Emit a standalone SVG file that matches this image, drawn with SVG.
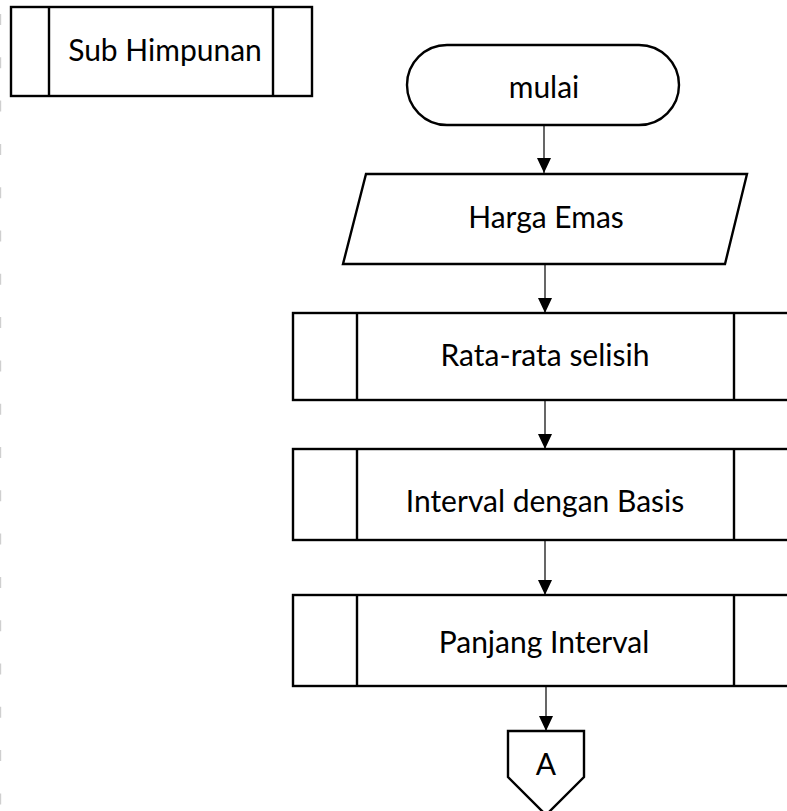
<svg xmlns="http://www.w3.org/2000/svg" width="787" height="811" viewBox="0 0 787 811">
  <defs>
    <marker id="arrow" viewBox="0 0 15 14" refX="15" refY="7" markerWidth="15" markerHeight="14" markerUnits="userSpaceOnUse" orient="auto">
      <path d="M0,0 L15,7 L0,14 Z" fill="#000"/>
    </marker>
    <style>
      .shape { fill: #fff; stroke: #000; stroke-width: 2.4; }
      .div { fill: none; stroke: #000; stroke-width: 2.4; }
      .label { font-family: Lato, "Open Sans", sans-serif; font-size: 30px; fill: #000; text-anchor: middle; }
      .flow { fill: none; stroke: #000; stroke-width: 1.2; marker-end: url(#arrow); }
    </style>
  </defs>
  <rect width="787" height="811" fill="#fff"/>

  <!-- faint dashed page edge on the left -->
  <line x1="0.6" y1="0" x2="0.6" y2="811" stroke="#cfcfcf" stroke-width="1.2" stroke-dasharray="11 32.3" stroke-dashoffset="29.3"/>

  <!-- legend: predefined process symbol -->
  <g id="legend-sub-himpunan">
    <rect class="shape" x="11" y="7" width="301" height="89"/>
    <line class="div" x1="49" y1="7" x2="49" y2="96"/>
    <line class="div" x1="273" y1="7" x2="273" y2="96"/>
    <text class="label" x="165" y="61">Sub Himpunan</text>
  </g>

  <g id="connectors">
    <line class="flow" x1="544" y1="125" x2="544" y2="173"/>
    <line class="flow" x1="545" y1="264" x2="545" y2="313"/>
    <line class="flow" x1="545" y1="400" x2="545" y2="449"/>
    <line class="flow" x1="545" y1="540" x2="545" y2="595"/>
    <line class="flow" x1="546" y1="686" x2="546" y2="731"/>
  </g>

  <g id="start">
    <rect class="shape" x="407" y="45" width="272" height="80" rx="40" ry="40"/>
    <text class="label" x="544" y="98">mulai</text>
  </g>

  <g id="input-harga-emas">
    <polygon class="shape" points="366,174 747,174 725,264 343,264"/>
    <text class="label" x="546" y="228">Harga Emas</text>
  </g>

  <g id="rata-rata-selisih">
    <rect class="shape" x="293" y="313" width="504" height="87"/>
    <line class="div" x1="357" y1="313" x2="357" y2="400"/>
    <line class="div" x1="734" y1="313" x2="734" y2="400"/>
    <text class="label" x="545" y="366">Rata-rata selisih</text>
  </g>

  <g id="interval-dengan-basis">
    <rect class="shape" x="293" y="449" width="504" height="91"/>
    <line class="div" x1="357" y1="449" x2="357" y2="540"/>
    <line class="div" x1="734" y1="449" x2="734" y2="540"/>
    <text class="label" x="545" y="512">Interval dengan Basis</text>
  </g>

  <g id="panjang-interval">
    <rect class="shape" x="293" y="595" width="504" height="91"/>
    <line class="div" x1="357" y1="595" x2="357" y2="686"/>
    <line class="div" x1="734" y1="595" x2="734" y2="686"/>
    <text class="label" x="544" y="653">Panjang Interval</text>
  </g>

  <g id="offpage-a">
    <polygon class="shape" points="508,731 584,731 584,777 546,815 508,777"/>
    <text class="label" x="546" y="775">A</text>
  </g>
</svg>
